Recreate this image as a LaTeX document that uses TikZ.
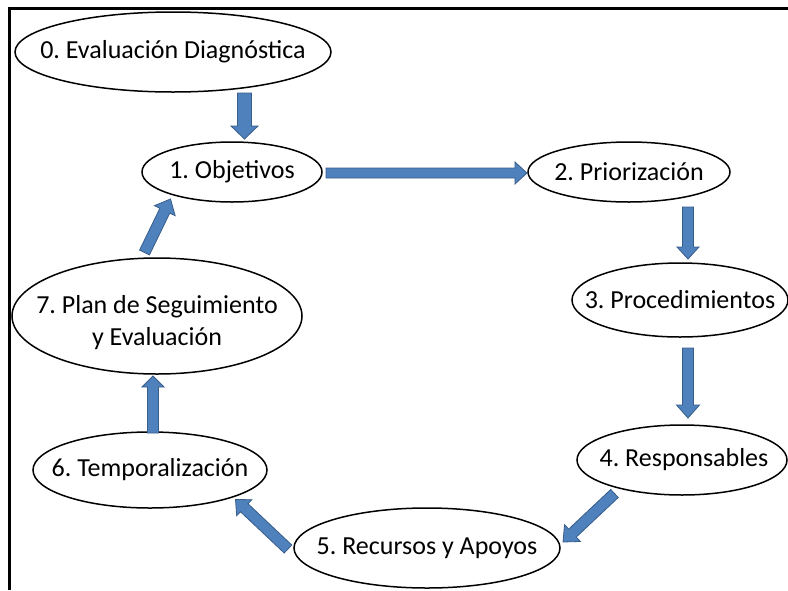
\documentclass[tikz,border=0pt]{standalone}
\usepackage{fontspec}
\setmainfont{Carlito}
\usetikzlibrary{calc,shapes.geometric}
\frenchspacing

\definecolor{arrowfill}{HTML}{4F81BD}
\definecolor{arrowedge}{HTML}{385D8A}

\tikzset{
  stage/.style={draw, line width=1.5pt, ellipse, inner sep=0pt, outer sep=0pt,
    font=\fontsize{26}{32}\selectfont},
  flowarrow/.style={fill=arrowfill, draw=arrowedge, line width=0.8pt, line join=miter},
}

% block arrow from #1 to #2: shaft half-width #3, head half-width #4, head length #5
\newcommand\blockarrow[5]{%
  \coordinate (baneck) at ($(#2)!#5!(#1)$);
  \filldraw[flowarrow]
    ($(#1)!#3!90:(#2)$) -- ($(baneck)!#3!90:(#2)$) -- ($(baneck)!#4!90:(#2)$)
    -- (#2)
    -- ($(baneck)!#4!-90:(#2)$) -- ($(baneck)!#3!-90:(#2)$) -- ($(#1)!#3!-90:(#2)$)
    -- cycle;
}

\begin{document}
\begin{tikzpicture}[x=1pt, y=-1pt]
  \useasboundingbox (0,0) rectangle (788,590);
  \fill[white] (0,0) rectangle (788,590);

  % frame
  \draw[line width=2.5pt, line join=miter] (9.5,590) -- (9.5,8.5) -- (788,8.5);

  % stages
  \node[stage, minimum width=316pt, minimum height=80pt] (n0) at (173,52)
    {\makebox[0pt]{0. Evaluación Diagnóstica}};
  \node[stage, minimum width=180pt, minimum height=60pt] (n1) at (232,172)
    {\makebox[0pt]{1. Objetivos}};
  \node[stage, minimum width=202pt, minimum height=60pt] (n2) at (629,172)
    {\makebox[0pt]{2. Priorización}};
  \node[stage, minimum width=216pt, minimum height=74pt] (n3) at (680,300)
    {\makebox[0pt]{3. Procedimientos}};
  \node[stage, minimum width=210pt, minimum height=70pt] (n4) at (682,460)
    {\makebox[0pt]{\hspace{4pt}4. Responsables}};
  \node[stage, minimum width=266pt, minimum height=80pt] (n5) at (427,548)
    {\makebox[0pt]{5. Recursos y Apoyos}};
  \node[stage, minimum width=234pt, minimum height=76pt] (n6) at (150,470)
    {\makebox[0pt]{6. Temporalización}};
  \node[stage, minimum width=290pt, minimum height=116pt] (n7) at (157,316)
    {\makebox[0pt]{\raisebox{-7pt}[\height][\depth]{\begin{tabular}{@{}c@{}}7. Plan de Seguimiento\\ y Evaluación\end{tabular}}}};

  % arrow ends
  \coordinate (s01) at ($(n0.south)+(71.5,1)$);
  \coordinate (e01) at ($(n1.north)+(12.5,-3)$);
  \coordinate (s12) at ($(n1.east)+(4,1)$);
  \coordinate (e12) at ($(n2.west)+(-1,1)$);
  \coordinate (s23) at ($(n2.south)+(59,5)$);
  \coordinate (e23) at ($(n3.north)+(8,-4)$);
  \coordinate (s34) at ($(n3.south)+(8,11)$);
  \coordinate (e34) at ($(n4.north)+(6,-7)$);
  \coordinate (s45) at (614.5,493.5);
  \coordinate (e45) at (563,542);
  \coordinate (s56) at (288,549);
  \coordinate (e56) at (235.5,499.5);
  \coordinate (s67) at ($(n6.north)+(3,1)$);
  \coordinate (e67) at ($(n7.south)+(-4,2)$);
  \coordinate (s71) at (144.5,252.5);
  \coordinate (e71) at (170.5,199);

  % connectors
  \blockarrow{s01}{e01}{7pt}{13.5pt}{13pt}
  \blockarrow{s12}{e12}{5pt}{11pt}{12pt}
  \blockarrow{s23}{e23}{5.5pt}{11pt}{12pt}
  \blockarrow{s34}{e34}{5.5pt}{11.5pt}{13pt}
  \blockarrow{s45}{e45}{5.5pt}{11.5pt}{13pt}
  \blockarrow{s56}{e56}{5.5pt}{11pt}{12pt}
  \blockarrow{s67}{e67}{5.5pt}{11pt}{11pt}
  \blockarrow{s71}{e71}{5.5pt}{11.5pt}{13pt}
\end{tikzpicture}
\end{document}
